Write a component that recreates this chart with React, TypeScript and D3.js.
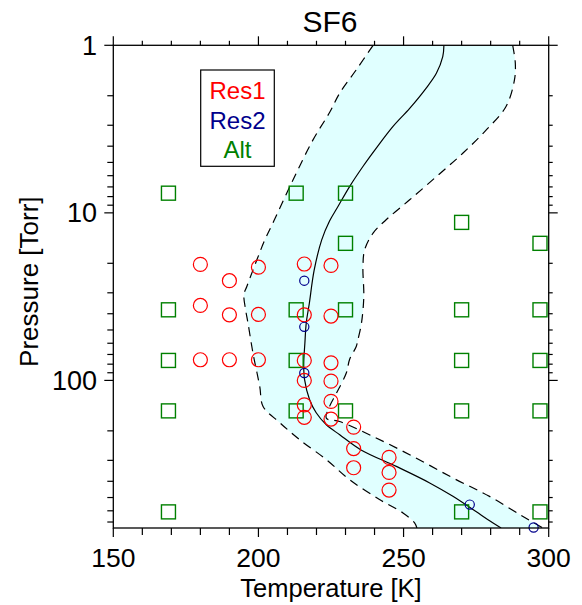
import React from "react";
import * as d3 from "d3";

// Mean profile (Temperature K, Pressure Torr)
const meanT = [263.9, 263.5, 261.3, 257.8, 252.1, 246.3, 240.6, 236, 231.4, 227.4, 224.5, 221.8, 219.2, 217.5, 216.5, 216, 215.6, 215.9, 217.6, 219.9, 223.4, 228, 235.2, 247.5, 259, 267, 273.9, 280.7, 283.6];
const meanP = [1, 1.17, 1.47, 1.8, 2.38, 3.06, 4.11, 5.29, 6.97, 9.17, 11.2, 14.5, 22, 35, 45, 60, 80, 99, 130, 156, 184, 211, 259, 326, 409, 492, 590, 708, 760];

// Lower-temperature envelope
const lowT = [239.5, 233.7, 228, 224.6, 218.8, 211.9, 205.3, 202.2, 199.5, 196, 195, 195.6, 196.4, 198.2, 199.5, 200.5, 201.6, 207.4, 214.2, 223.4, 231.4, 241.7, 249.8, 253.8, 254.6];
const lowP = [1, 1.4, 1.93, 2.5, 3.67, 6.36, 11.2, 14.5, 19, 27.5, 30.8, 38, 45.5, 70, 90, 110, 143, 179, 226, 297, 391, 514, 618, 708, 760];

// Upper-temperature envelope
const highT = [287.6, 288.5, 288.2, 285.3, 278.5, 270.4, 261.3, 252.1, 244, 239.5, 236.6, 236, 236.3, 235.5, 234.3, 233.7, 231.4, 230.3, 226.9, 224.5, 223.4, 228, 239.5, 253.2, 267, 279.6, 291, 298];
const highP = [1, 1.28, 1.61, 2.32, 3.2, 4.41, 6.08, 8.36, 11, 13.2, 16.6, 20.9, 31.6, 45.5, 57, 62.7, 75, 90, 119, 143, 168, 176, 216, 284, 382, 492, 647, 760];

// Res1 (red circles)
const res1T = [180, 200, 215.8, 225, 190, 180, 190, 200, 215.8, 225, 180, 190, 200, 215.8, 225, 215.8, 225, 225, 215.8, 215.8, 225, 232.8, 232.8, 232.8, 245, 245, 245];
const res1P = [20.3, 21.1, 20.2, 20.6, 25.4, 35.7, 40.6, 40.4, 40.6, 41.3, 75.3, 75.3, 75.3, 76, 78.5, 100, 101, 133.4, 140, 166, 170, 190, 255, 332, 288, 354, 451];

// Res2 (blue circles)
const res2T = [215.8, 215.8, 215.8, 272.8, 294.8];
const res2P = [25.4, 47.9, 90.3, 551, 755];

// Alt (green squares)
const altT = [169, 213, 230, 270, 230, 297, 169, 213, 230, 270, 297, 169, 213, 270, 297, 169, 213, 230, 270, 297, 169, 270, 297];
const altP = [7.63, 7.63, 7.63, 11.4, 15.2, 15.2, 37.9, 37.9, 37.9, 37.9, 37.9, 76, 76, 76, 76, 152, 152, 152, 152, 152, 609, 609, 609];

const xMajor = [150, 200, 250, 300];
const xMinor = [160, 170, 180, 190, 210, 220, 230, 240, 260, 270, 280, 290];
const yMajor = [1, 10, 100];
const yMinor = [2, 3, 4, 5, 6, 7, 8, 9, 20, 30, 40, 50, 60, 70, 80, 90, 200, 300, 400, 500, 600, 700];

const legendItems = ["Res1", "Res2", "Alt"];
const legendColors = ["#ff0000", "#00008c", "#008000"];

const FONT = "'Liberation Sans', Arial, Helvetica, sans-serif";

export default function App() {
  const L = 113.3, R = 548.7, T = 45.3, B = 528;
  const x = d3.scaleLinear().domain([150, 300]).range([L, R]);
  const y = d3.scaleLog().domain([1, 760]).range([T, B]);

  const line = d3
    .line<[number, number]>()
    .x((d) => x(d[0]))
    .y((d) => y(d[1]))
    .curve(d3.curveCatmullRom.alpha(0.5));

  const meanPts: [number, number][] = meanT.map((t, i) => [t, meanP[i]]);
  const lowPts: [number, number][] = lowT.map((t, i) => [t, lowP[i]]);
  const highPts: [number, number][] = highT.map((t, i) => [t, highP[i]]);

  const lowPath = line(lowPts) || "";
  const highRev = (line([...highPts].reverse()) || "").replace(/^M/, "L");
  const fillPath = lowPath + highRev + "Z";

  return (
    <svg
      width={582}
      height={605}
      style={{ position: "absolute", left: 0, top: 0, background: "#fff" }}
      fontFamily={FONT}
    >
      <defs>
        <clipPath id="plotclip">
          <rect x={L} y={T} width={R - L} height={B - T} />
        </clipPath>
      </defs>
      <rect x={0} y={0} width={582} height={605} fill="#fff" />

      <g clipPath="url(#plotclip)">
        <path d={fillPath} fill="#e0ffff" stroke="none" />
        <path d={lowPath} fill="none" stroke="#000" strokeWidth={1.2} strokeDasharray="9,6" />
        <path d={line(highPts) || ""} fill="none" stroke="#000" strokeWidth={1.2} strokeDasharray="9,6" />
        <path d={line(meanPts) || ""} fill="none" stroke="#000" strokeWidth={1.2} />
      </g>

      {altT.map((t, i) => (
        <rect
          key={"a" + i}
          x={x(t) - 7}
          y={y(altP[i]) - 7}
          width={14}
          height={14}
          fill="none"
          stroke="#008000"
          strokeWidth={1.4}
        />
      ))}
      {res1T.map((t, i) => (
        <circle key={"r" + i} cx={x(t)} cy={y(res1P[i])} r={7} fill="none" stroke="#ff0000" strokeWidth={1.2} />
      ))}
      {res2T.map((t, i) => (
        <circle key={"b" + i} cx={x(t)} cy={y(res2P[i])} r={4.6} fill="none" stroke="#00008c" strokeWidth={1.2} />
      ))}

      <rect x={L} y={T} width={R - L} height={B - T} fill="none" stroke="#000" strokeWidth={1.3} />

      {xMajor.map((v) => (
        <g key={"xM" + v}>
          <line x1={x(v)} x2={x(v)} y1={B} y2={B + 9} stroke="#000" strokeWidth={1.2} />
          <line x1={x(v)} x2={x(v)} y1={T} y2={T - 9} stroke="#000" strokeWidth={1.2} />
          <text x={x(v)} y={567} fontSize={26.5} textAnchor="middle" fill="#000">
            {v}
          </text>
        </g>
      ))}
      {xMinor.map((v) => (
        <g key={"xm" + v}>
          <line x1={x(v)} x2={x(v)} y1={B} y2={B + 7} stroke="#000" strokeWidth={1.2} />
          <line x1={x(v)} x2={x(v)} y1={T} y2={T - 4.5} stroke="#000" strokeWidth={1.2} />
        </g>
      ))}

      {yMajor.map((v) => (
        <g key={"yM" + v}>
          <line x1={L} x2={L - 9} y1={y(v)} y2={y(v)} stroke="#000" strokeWidth={1.2} />
          <line x1={R} x2={R + 9} y1={y(v)} y2={y(v)} stroke="#000" strokeWidth={1.2} />
          <text x={97} y={y(v) + 9.5} fontSize={27} textAnchor="end" fill="#000">
            {v}
          </text>
        </g>
      ))}
      {yMinor.map((v) => (
        <g key={"ym" + v}>
          <line x1={L} x2={L - 6} y1={y(v)} y2={y(v)} stroke="#000" strokeWidth={1.2} />
          <line x1={R} x2={R + 4} y1={y(v)} y2={y(v)} stroke="#000" strokeWidth={1.2} />
        </g>
      ))}

      <text x={330} y={31.5} fontSize={30} textAnchor="middle" fill="#000">
        SF6
      </text>
      <text x={331} y={597} fontSize={25.5} textAnchor="middle" fill="#000">
        Temperature [K]
      </text>
      <text
        transform={`translate(38, ${(T + B) / 2 - 5}) rotate(-90)`}
        fontSize={26}
        textAnchor="middle"
        fill="#000"
      >
        Pressure [Torr]
      </text>

      <rect x={200.7} y={70} width={73.6} height={96.3} fill="#fff" stroke="#000" strokeWidth={1.2} />
      {legendItems.map((s, i) => (
        <text key={s} x={237.5} y={99.3 + i * 29.5} fontSize={24} textAnchor="middle" fill={legendColors[i]}>
          {s}
        </text>
      ))}
    </svg>
  );
}
